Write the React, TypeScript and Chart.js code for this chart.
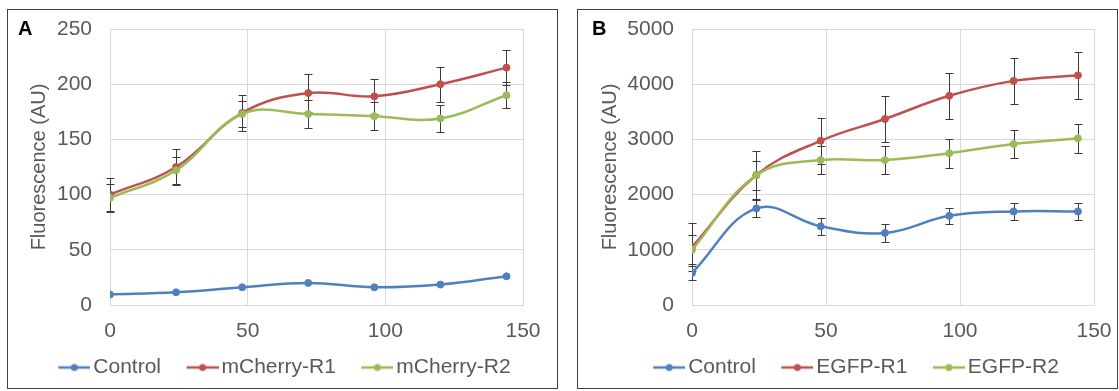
import React, { useEffect, useRef } from 'react';
import { Chart, registerables } from 'chart.js';

Chart.register(...registerables);

const FONT = "'Liberation Sans', Arial, sans-serif";
const TEXT = '#595959';
const GRID = '#D9D9D9';
const BLUE = '#4F81BD';
const RED = '#C0504D';
const GREEN = '#9BBB59';

// Shared x values (hours)
const timePoints = [0, 24, 48, 72, 96, 120, 144];

// Panel A (mCherry)
const labelsA = ['Control', 'mCherry-R1', 'mCherry-R2'];
const controlA = [9.5, 11.5, 16, 20, 16, 18.5, 26];
const r1A = [100, 125, 174, 192, 189, 200, 215];
const r2A = [97, 122, 173, 173, 171, 169, 190];
const r1AErr = [15, 16, 16, 17, 16, 16, 16];
const r2AErr = [13, 12.5, 12, 12.5, 12.5, 12.5, 12];

// Panel B (EGFP)
const labelsB = ['Control', 'EGFP-R1', 'EGFP-R2'];
const controlB = [580, 1750, 1425, 1305, 1615, 1695, 1695];
const r1B = [1050, 2355, 2975, 3370, 3790, 4060, 4160];
const r2B = [1000, 2350, 2625, 2625, 2750, 2915, 3020];
const controlBErr = [135, 160, 150, 160, 150, 150, 150];
const r1BErr = [430, 430, 420, 420, 420, 420, 420];
const r2BErr = [260, 260, 260, 250, 260, 250, 260];

const yTitle = 'Fluorescence (AU)';

function toPoints(ys: number[]) {
  return ys.map((y, i) => ({ x: timePoints[i], y }));
}

function legendIcon(color: string) {
  const c = document.createElement('canvas');
  c.width = 56;
  c.height = 10;
  const g = c.getContext('2d')!;
  g.strokeStyle = color;
  g.lineWidth = 2.5;
  g.beginPath();
  g.moveTo(24, 5);
  g.lineTo(56, 5);
  g.stroke();
  g.fillStyle = color;
  g.beginPath();
  g.arc(40, 5, 3.5, 0, Math.PI * 2);
  g.fill();
  return c;
}

const errorBarPlugin = {
  id: 'errorBars',
  beforeDatasetsDraw(chart: any) {
    const ctx = chart.ctx;
    const xs = chart.scales.x;
    const ys = chart.scales.y;
    chart.data.datasets.forEach((ds: any) => {
      const errs: number[] | undefined = ds.errors;
      if (!errs) return;
      ctx.save();
      ctx.strokeStyle = '#3a3a3a';
      ctx.lineWidth = 1;
      ds.data.forEach((pt: any, j: number) => {
        const e = errs[j];
        if (!e) return;
        const px = Math.round(xs.getPixelForValue(pt.x)) + 0.5;
        const top = Math.round(ys.getPixelForValue(pt.y + e)) + 0.5;
        const bot = Math.round(ys.getPixelForValue(pt.y - e)) + 0.5;
        ctx.beginPath();
        ctx.moveTo(px, top);
        ctx.lineTo(px, bot);
        ctx.moveTo(px - 4, top);
        ctx.lineTo(px + 4, top);
        ctx.moveTo(px - 4, bot);
        ctx.lineTo(px + 4, bot);
        ctx.stroke();
      });
      ctx.restore();
    });
  },
};

type PanelProps = {
  width: number;
  height: number;
  labels: string[];
  series: number[][];
  errors: (number[] | null)[];
  yMax: number;
  yStep: number;
  padLeft: number;
  padRight: number;
  yWidth: number;
  titlePad: number;
};

function Panel(p: PanelProps) {
  const ref = useRef<HTMLCanvasElement>(null);
  useEffect(() => {
    const colors = [BLUE, RED, GREEN];
    const icons = colors.map(legendIcon);
    const chart = new Chart(ref.current!, {
      type: 'line',
      data: {
        datasets: p.series.map((s, i) => ({
          label: p.labels[i],
          data: toPoints(s),
          errors: p.errors[i],
          borderColor: colors[i],
          backgroundColor: colors[i],
          pointBackgroundColor: colors[i],
          pointBorderColor: colors[i],
          borderWidth: 2.5,
          pointRadius: 3.5,
          pointBorderWidth: 1,
          tension: 0.4,
          fill: false,
          order: 2 - i,
        })) as any,
      },
      options: {
        animation: false,
        responsive: false,
        maintainAspectRatio: false,
        layout: { padding: { left: p.padLeft, right: p.padRight, top: 19, bottom: 0 } },
        plugins: {
          tooltip: { enabled: false },
          legend: {
            position: 'bottom',
            labels: {
              usePointStyle: true,
              pointStyleWidth: 41,
              padding: 9,
              color: TEXT,
              font: { size: 21, family: FONT },
              generateLabels: (chart: any) =>
                chart.data.datasets.map((ds: any, i: number) => ({
                  text: ds.label,
                  fillStyle: colors[i],
                  strokeStyle: colors[i],
                  lineWidth: 0,
                  pointStyle: icons[i],
                  datasetIndex: i,
                  hidden: false,
                  fontColor: TEXT,
                })),
            },
          },
        },
        scales: {
          x: {
            type: 'linear',
            min: 0,
            max: 150,
            ticks: { stepSize: 50, color: TEXT, font: { size: 21, family: FONT }, padding: 0 },
            grid: { color: GRID, drawTicks: true, tickLength: 14, tickColor: 'rgba(0,0,0,0)' },
            border: { color: GRID },
            afterFit: (s: any) => {
              s.height = 43;
            },
          },
          y: {
            type: 'linear',
            min: 0,
            max: p.yMax,
            ticks: {
              stepSize: p.yStep,
              color: TEXT,
              font: { size: 21, family: FONT },
              padding: 0,
              callback: (v: any) => String(v),
            },
            grid: { color: GRID, drawTicks: true, tickLength: 18, tickColor: 'rgba(0,0,0,0)' },
            border: { color: GRID },
            title: {
              display: true,
              text: yTitle,
              color: TEXT,
              font: { size: 20, family: FONT },
              padding: { top: p.titlePad, bottom: 0 },
            },
            afterFit: (s: any) => {
              s.width = p.yWidth;
            },
          },
        },
      } as any,
      plugins: [errorBarPlugin],
    });
    return () => chart.destroy();
  }, []);
  return (
    <canvas
      ref={ref}
      width={p.width}
      height={p.height}
      style={{ width: p.width, height: p.height, display: 'block' }}
    />
  );
}

const boxStyle = (left: number, width: number): React.CSSProperties => ({
  position: 'absolute',
  left,
  top: 9,
  width,
  height: 378,
  border: '1px solid #404040',
  background: '#fff',
});

const letterStyle = (left: number): React.CSSProperties => ({
  position: 'absolute',
  left,
  top: 18,
  font: `bold 20px ${FONT}`,
  lineHeight: '20px',
  color: '#000',
});

export default function App() {
  return (
    <div
      style={{
        position: 'absolute',
        left: 0,
        top: 0,
        width: 1119,
        height: 391,
        background: '#fff',
        fontFamily: FONT,
        overflow: 'hidden',
      }}
    >
      <div style={boxStyle(7, 549)}>
        <Panel
          width={549}
          height={378}
          labels={labelsA}
          series={[controlA, r1A, r2A]}
          errors={[null, r1AErr, r2AErr]}
          yMax={250}
          yStep={50}
          padLeft={21.5}
          padRight={34}
          yWidth={80.5}
          titlePad={-2.5}
        />
      </div>
      <div style={boxStyle(577, 539)}>
        <Panel
          width={539}
          height={378}
          labels={labelsB}
          series={[controlB, r1B, r2B]}
          errors={[controlBErr, r1BErr, r2BErr]}
          yMax={5000}
          yStep={1000}
          padLeft={23.5}
          padRight={23}
          yWidth={90.5}
          titlePad={-3.5}
        />
      </div>
      <div style={letterStyle(18)}>A</div>
      <div style={letterStyle(592)}>B</div>
    </div>
  );
}
